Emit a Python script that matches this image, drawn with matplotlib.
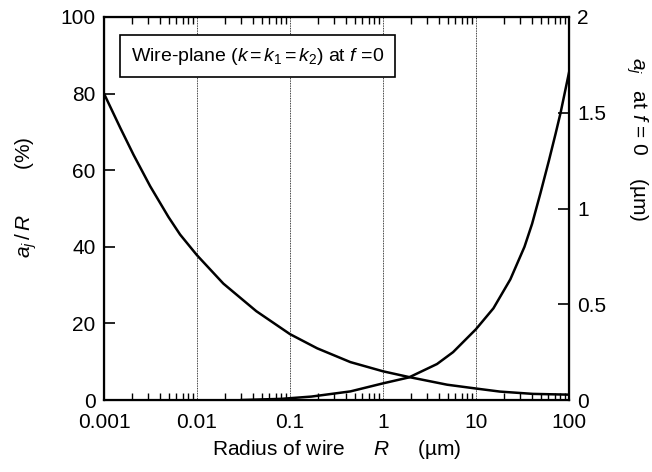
import numpy as np
from matplotlib import pyplot as plt
from matplotlib.ticker import LogLocator, FixedLocator, NullFormatter

plt.rcParams['font.family'] = ['Liberation Sans', 'DejaVu Sans']
plt.rcParams['mathtext.fontset'] = 'custom'
plt.rcParams['mathtext.rm'] = 'Liberation Sans'
plt.rcParams['mathtext.it'] = 'Liberation Sans:italic'

# a_j / R (%) versus wire radius (left axis)
radius_ratio = [0.001, 0.0015, 0.00208, 0.00314, 0.00493, 0.00658, 0.01, 0.0192, 0.0434,
                0.1, 0.196, 0.446, 1, 1.9, 4.89, 10, 18.1, 41, 100]
ratio_pct = [80, 71.0, 64.0, 55.8, 47.8, 43.2, 37.8, 30.4, 23.2,
             17.2, 13.5, 9.9, 7.5, 6.0, 4.0, 3.0, 2.2, 1.6, 1.4]

# a_j (um) versus wire radius (right axis)
radius_aj = [0.03, 0.08, 0.17, 0.446, 1, 1.9, 3.81, 5.67, 10, 15.4, 23.4, 33.2, 40.1,
             49.3, 60.8, 71.7, 81.2, 100]
aj_um = [0.0, 0.006, 0.018, 0.045, 0.087, 0.118, 0.188, 0.25, 0.37, 0.479, 0.63, 0.80, 0.92,
         1.08, 1.25, 1.39, 1.50, 1.71]

fig, ax = plt.subplots(figsize=(6.52, 4.72), dpi=100)
fig.subplots_adjust(left=0.1595, right=0.8727, top=0.964, bottom=0.1525)

ax.plot(radius_ratio, ratio_pct, color='black', lw=1.8)
ax.set_xscale('log')
ax.set_xlim(0.001, 100)
ax.set_ylim(0, 100)
ax.set_yticks([0, 20, 40, 60, 80, 100])
ax.set_xticks([0.001, 0.01, 0.1, 1, 10, 100])
ax.set_xticklabels(['0.001', '0.01', '0.1', '1', '10', '100'])
ax.xaxis.set_minor_locator(LogLocator(base=10, subs=np.arange(2, 10)))
ax.xaxis.set_minor_formatter(NullFormatter())
ax.tick_params(axis='x', which='major', direction='in', top=True, length=0, labelsize=15, pad=9)
ax.tick_params(axis='x', which='minor', direction='in', top=True, length=5, width=1)
ax.tick_params(axis='y', direction='in', length=8, width=1.2, labelsize=15, right=False, pad=6)
for x in [0.01, 0.1, 1, 10]:
    ax.axvline(x, color='black', lw=0.6, ls=(0, (1, 1)))
for s in ax.spines.values():
    s.set_linewidth(1.6)

ax.set_xlabel(r'Radius of wire     $\mathit{R}$     (µm)', fontsize=15, labelpad=5)
ax.set_ylabel(r'$\mathit{a}_{\mathit{j}}$$\,/\,\mathit{R}$        (%)', fontsize=15,
              ha='center', va='center')
ax.yaxis.set_label_coords(-0.168, 0.53)

ax2 = ax.twinx()
ax2.plot(radius_aj, aj_um, color='black', lw=1.8)
ax2.set_ylim(0, 2)
ax2.yaxis.set_major_locator(FixedLocator([0, 0.5, 1, 1.5, 2]))
ax2.set_yticklabels(['0', '0.5', '1', '1.5', '2'])
ax2.tick_params(axis='y', direction='in', length=8, width=1.2, labelsize=15, pad=6)
ax2.set_ylabel(r'$\mathit{a}_{\mathit{j}}$   at $\mathit{f}$ = 0    (µm)', fontsize=15,
               rotation=270, ha='center', va='center')
ax2.yaxis.set_label_coords(1.146, 0.68)

ax.text(0.058, 0.898, r'Wire-plane ($\mathit{k}\,$=$\,\mathit{k}_{1}\,$=$\,\mathit{k}_{2}$) at $\mathit{f}$ =0',
        transform=ax.transAxes, fontsize=14, va='center', ha='left',
        bbox=dict(boxstyle='square,pad=0.55', fc='white', ec='black', lw=1.2))

plt.savefig('out.png', dpi=100)
